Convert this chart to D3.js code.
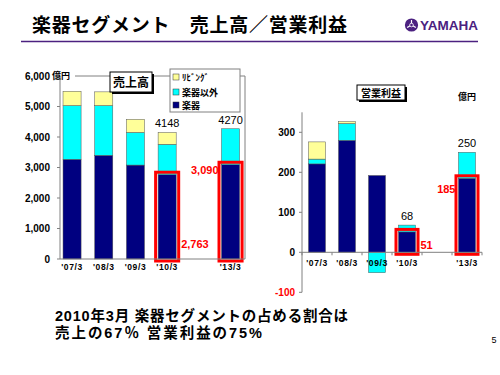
<!DOCTYPE html>
<html><head><meta charset="utf-8">
<script src="https://cdn.jsdelivr.net/npm/d3@7"></script>
<style>
html,body{margin:0;padding:0;background:#fff;}
svg{display:block;}
text{font-family:"Liberation Sans",Arial,sans-serif;}
.jp{font-family:"Noto Sans CJK JP","Noto Sans",sans-serif;}
.ft{font-family:"Liberation Sans","Noto Sans CJK JP",sans-serif;}
</style></head>
<body>
<script>
// ---- data ----
const categories = ["'07/3","'08/3","'09/3","'10/3","","'13/3"];
const seriesNames = ["楽器","楽器以外","ﾘﾋﾞﾝｸﾞ"];
const seriesColors = ["#000080","#00FFFF","#FFFF99"];
// 売上高 (億円)
const salesGakki   = [3270, 3400, 3080, 2763, null, 3090];
const salesIgai    = [1760, 1630, 1070,  997, null, 1180];
const salesLiving  = [ 470,  450,  430,  388, null,    0];
const salesTotals  = [null, null, null, 4148, null, 4270];
const salesTicks   = [0,1000,2000,3000,4000,5000,6000];
// 営業利益 (億円)
const profitGakki  = [221, 280, 192, 51, null, 185];
const profitIgai   = [ 12,  42, -51, 17, null,  65];
const profitLiving = [ 43,   5,   0,  0, null,   0];
const profitTotals = [null, null, null, 68, null, 250];
const profitTicks  = [-100,0,100,200,300];
const highlighted  = ["'10/3","'13/3"];
const footerLines  = ["2010年3月 楽器セグメントの占める割合は","売上の67％ 営業利益の75%"];

const W=500,H=375;
const svg=d3.select("body").append("svg").attr("width",W).attr("height",H);

// ---- header ----
svg.append("text").attr("class","jp").attr("x",32).attr("y",32)
  .attr("font-size",19).attr("font-weight","bold").attr("fill","#000")
  .attr("textLength",315).attr("lengthAdjust","spacing")
  .text("楽器セグメント　売上高／営業利益");
svg.append("line").attr("x1",21).attr("x2",478).attr("y1",41.5).attr("y2",41.5)
  .attr("stroke","#4B2180").attr("stroke-width",1.6);
// logo
const lg=svg.append("g").attr("transform","translate(411.5,25)");
lg.append("circle").attr("r",6.6).attr("fill","#4B2180");
[0,120,240].forEach(a=>{
  lg.append("line").attr("x1",0).attr("y1",0).attr("x2",0).attr("y2",-5)
    .attr("stroke","#fff").attr("stroke-width",1.2).attr("transform",`rotate(${a})`);
});
lg.append("circle").attr("r",1.8).attr("fill","#4B2180").attr("stroke","#fff").attr("stroke-width",0.8);
svg.append("text").attr("x",420).attr("y",30).attr("font-size",13).attr("font-weight","bold")
  .attr("fill","#4B2180").attr("textLength",58).attr("lengthAdjust","spacingAndGlyphs").text("YAMAHA");

// ---- helpers ----
function stackData(a,b,c){
  return categories.map((cat,i)=>{
    if(a[i]==null) return null;
    const segs=[]; let pos=0, neg=0;
    [a[i],b[i],c[i]].forEach((v,k)=>{
      if(v>=0){segs.push({k,y0:pos,y1:pos+v}); pos+=v;}
      else {segs.push({k,y0:neg+v,y1:neg}); neg+=v;}
    });
    return {cat,segs,gakki:a[i]};
  }).filter(d=>d);
}

function drawChart(opt){
  const g=svg.append("g");
  const x=d3.scaleBand().domain(categories).range(opt.xr).paddingInner(opt.pi).paddingOuter(opt.pi/2);
  const y=d3.scaleLinear().domain(opt.yd).range(opt.yr);
  const data=stackData(opt.a,opt.b,opt.c);
  data.forEach(d=>{
    d.segs.forEach(s=>{
      if(s.y1===s.y0) return;
      g.append("rect").attr("x",x(d.cat)).attr("width",x.bandwidth())
        .attr("y",y(s.y1)).attr("height",y(s.y0)-y(s.y1))
        .attr("fill",seriesColors[s.k]).attr("stroke","#555").attr("stroke-width",0.5);
    });
  });
  data.filter(d=>highlighted.includes(d.cat)).forEach(d=>{
    g.append("rect").attr("x",x(d.cat)-2.5).attr("width",x.bandwidth()+5)
      .attr("y",y(d.gakki)-2.5).attr("height",y(0)-y(d.gakki)+4.5)
      .attr("fill","none").attr("stroke","#FF0000").attr("stroke-width",3);
  });
  return {g,x,y};
}

// ---- left chart: 売上高 ----
const L=drawChart({xr:[56.2,246.4],pi:0.43,yd:[0,6000],yr:[259,76],a:salesGakki,b:salesIgai,c:salesLiving});
{
  const {g,x,y}=L;
  const grey="#808080";
  g.append("path").attr("d",`M60,${y(6000)}V${y(0)}H245V${y(6000)}H75`).attr("fill","none").attr("stroke",grey).attr("stroke-width",1);
  salesTicks.forEach(t=>{
    g.append("line").attr("x1",57).attr("x2",60).attr("y1",y(t)).attr("y2",y(t)).attr("stroke",grey);
    g.append("text").attr("x",50).attr("y",y(t)+3.5).attr("text-anchor","end")
      .attr("font-size",10).attr("font-weight","bold").text(d3.format(",")(t));
  });
  categories.forEach(c=>{
    if(!c) return;
    g.append("text").attr("x",x(c)+x.bandwidth()/2).attr("y",270).attr("text-anchor","middle")
      .attr("font-size",8.5).attr("font-weight","bold").attr("letter-spacing",0.6).text(c);
  });
  g.append("text").attr("class","jp").attr("x",52).attr("y",79).attr("font-size",9).attr("font-weight","bold").text("億円");
  categories.forEach((c,i)=>{
    if(salesTotals[i]!=null){
      g.append("text").attr("x",x(c)+x.bandwidth()/2).attr("y",y(salesTotals[i])-5).attr("text-anchor","middle")
        .attr("font-size",11).text(salesTotals[i]);
    }
  });
  g.append("text").attr("x",x("'13/3")-3).attr("y",y(3090)+9).attr("text-anchor","end")
    .attr("font-size",11).attr("font-weight","bold").attr("fill","#FF0000").text("3,090");
  g.append("text").attr("x",x("'10/3")+x.bandwidth()+5).attr("y",248).attr("text-anchor","start")
    .attr("font-size",11).attr("font-weight","bold").attr("fill","#FF0000").text("2,763");
  g.append("rect").attr("x",112).attr("y",74).attr("width",42).attr("height",20).attr("fill","#000");
  g.append("rect").attr("x",110).attr("y",72).attr("width",42).attr("height",20).attr("fill","#fff").attr("stroke","#000").attr("stroke-width",1);
  g.append("text").attr("class","jp").attr("x",131).attr("y",86.5).attr("text-anchor","middle")
    .attr("font-size",12).attr("font-weight","bold").text("売上高");
  g.append("rect").attr("x",170).attr("y",69).attr("width",70).attr("height",43).attr("fill","#fff").attr("stroke",grey);
  const legendOrder=[2,1,0], ly=[77,92,105];
  legendOrder.forEach((k,j)=>{
    g.append("rect").attr("x",173).attr("y",ly[j]-3).attr("width",6).attr("height",6)
      .attr("fill",seriesColors[k]).attr("stroke","#333").attr("stroke-width",0.5);
    g.append("text").attr("class","jp").attr("x",182).attr("y",ly[j]+3.5)
      .attr("font-size",9).attr("font-weight","bold").text(seriesNames[k]);
  });
}

// ---- right chart: 営業利益 ----
const R=drawChart({xr:[302,482],pi:0.433,yd:[-100,350],yr:[292.3,112.3],a:profitGakki,b:profitIgai,c:profitLiving});
{
  const {g,x,y}=R;
  const grey="#808080";
  g.append("line").attr("x1",302).attr("x2",302).attr("y1",y(350)).attr("y2",y(-100)).attr("stroke",grey);
  g.append("line").attr("x1",302).attr("x2",482).attr("y1",y(0)).attr("y2",y(0)).attr("stroke",grey);
  profitTicks.forEach(t=>{
    g.append("line").attr("x1",299).attr("x2",302).attr("y1",y(t)).attr("y2",y(t)).attr("stroke",grey);
    g.append("text").attr("x",295).attr("y",y(t)+3.5).attr("text-anchor","end")
      .attr("font-size",10).attr("font-weight","bold").attr("fill",t<0?"#FF0000":"#000").text(t);
  });
  const step=x.step();
  d3.range(7).forEach(i=>{
    const bx=x.range()[0]+i*step;
    g.append("line").attr("x1",bx).attr("x2",bx).attr("y1",y(0)).attr("y2",y(0)+3).attr("stroke",grey);
  });
  categories.forEach(c=>{
    if(!c) return;
    g.append("text").attr("x",x(c)+x.bandwidth()/2).attr("y",265.5).attr("text-anchor","middle")
      .attr("font-size",8.5).attr("font-weight","bold").attr("letter-spacing",0.6).text(c);
  });
  categories.forEach((c,i)=>{
    if(profitTotals[i]!=null){
      g.append("text").attr("x",x(c)+x.bandwidth()/2).attr("y",y(profitTotals[i])-5).attr("text-anchor","middle")
        .attr("font-size",11).text(profitTotals[i]);
    }
  });
  g.append("text").attr("x",x("'13/3")-3).attr("y",y(185)+15).attr("text-anchor","end")
    .attr("font-size",11).attr("font-weight","bold").attr("fill","#FF0000").text("185");
  g.append("text").attr("x",x("'10/3")+x.bandwidth()+5).attr("y",y(51)+17).attr("text-anchor","start")
    .attr("font-size",11).attr("font-weight","bold").attr("fill","#FF0000").text("51");
  g.append("text").attr("class","jp").attr("x",467).attr("y",100).attr("text-anchor","middle")
    .attr("font-size",9).attr("font-weight","bold").text("億円");
  g.append("rect").attr("x",359).attr("y",87).attr("width",48).attr("height",15).attr("fill","#000");
  g.append("rect").attr("x",357).attr("y",85).attr("width",48).attr("height",15).attr("fill","#fff").attr("stroke","#000").attr("stroke-width",1);
  g.append("text").attr("class","jp").attr("x",381).attr("y",96.5).attr("text-anchor","middle")
    .attr("font-size",10).attr("font-weight","bold").text("営業利益");
}

// ---- footer ----
svg.append("text").attr("class","ft").attr("x",55).attr("y",321).attr("font-size",14.5).attr("font-weight","bold")
  .attr("textLength",293).attr("lengthAdjust","spacing").text(footerLines[0]);
svg.append("text").attr("class","ft").attr("x",55).attr("y",338).attr("font-size",14.5).attr("font-weight","bold")
  .attr("textLength",207).attr("lengthAdjust","spacing").text(footerLines[1]);
svg.append("text").attr("x",494).attr("y",343).attr("text-anchor","middle").attr("font-size",9).text("5");
</script>
</body></html>
